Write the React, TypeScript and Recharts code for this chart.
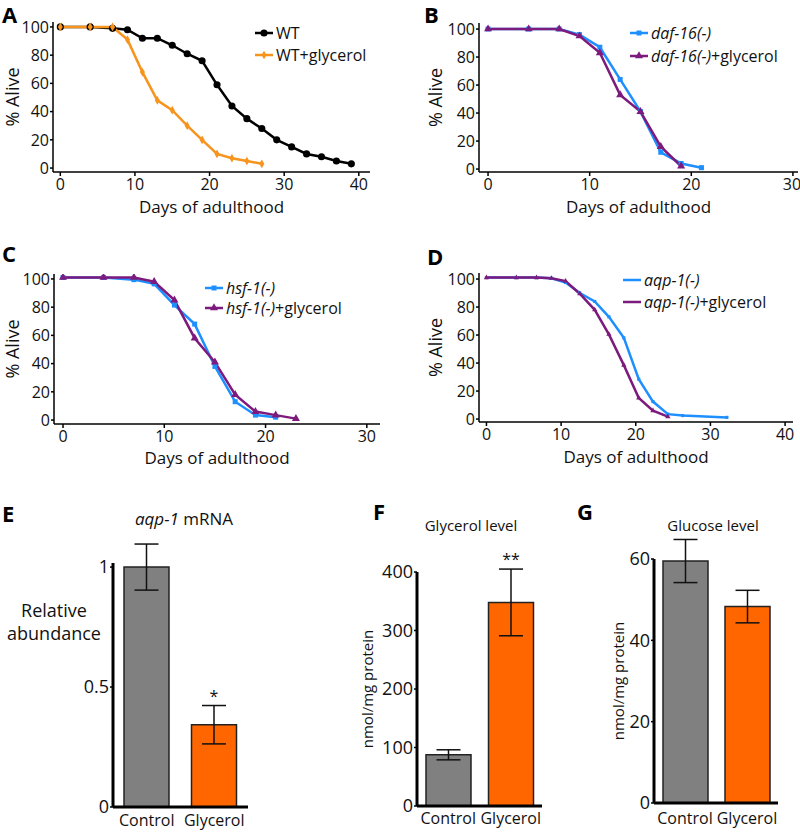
import React from "react"
import { LineChart, Line, XAxis, YAxis, Legend, BarChart, Bar, ErrorBar, Cell, LabelList, Symbols } from "recharts"

const FONT = "'Open Sans', sans-serif"
const INK = "#111"
const ORANGE_LINE = "#F7941D"
const BLUE = "#1E8FFF"
const PURPLE = "#7D1A7D"
const GREY = "#808080"
const ORANGE_BAR = "#FF6600"

// panel A
const daysWT = [0, 4, 7, 9, 11, 13, 15, 17, 19, 21, 23, 25, 27, 29, 31, 33, 35, 37, 39]
const aliveWT = [100, 100, 99, 98, 92, 92, 87, 81, 76, 59, 44, 35, 28, 20, 15, 10, 8, 5, 3]
const daysWTGly = [0, 4, 7, 9, 11, 13, 15, 17, 19, 21, 23, 25, 27]
const aliveWTGly = [100, 100, 100, 91, 68, 48, 41, 30, 20, 10, 7, 5, 3]

// panel B
const daysDaf = [0, 4, 7, 9, 11, 13, 15, 17, 19, 21]
const aliveDaf = [100, 100, 100, 96, 87, 64, 41, 12, 4, 1]
const daysDafGly = [0, 4, 7, 9, 11, 13, 15, 17, 19]
const aliveDafGly = [100, 100, 100, 95, 83, 53, 41, 16, 2]

// panel C
const daysHsf = [0, 4, 7, 9, 11, 13, 15, 17, 19, 21]
const aliveHsf = [101, 101, 99.5, 96.5, 81.5, 68, 38, 13, 3.5, 2]
const daysHsfGly = [0, 4, 7, 9, 11, 13, 15, 17, 19, 21, 23]
const aliveHsfGly = [101, 101, 101, 98, 85, 58, 41, 18, 6, 3.5, 1]

// panel D
const daysAqp = [0, 4, 6.7, 8.7, 10.6, 12.5, 14.5, 16.4, 18.4, 20.4, 22.3, 24.3, 26.3, 32.2]
const aliveAqp = [101, 101, 101, 100.5, 97.5, 90, 84, 73, 58, 28.5, 12.5, 3.5, 2.5, 1.2]
const daysAqpGly = [0, 4, 6.7, 8.7, 10.6, 12.5, 14.5, 16.4, 18.4, 20.4, 22.3, 24.3]
const aliveAqpGly = [101, 101, 101, 100.5, 98.5, 89.5, 78, 60.5, 38.5, 15, 6, 1.7]

const aliveTicks = [0, 20, 40, 60, 80, 100]

// panels E-G
const categories = ["Control", "Glycerol"]
const barColors = [GREY, ORANGE_BAR]
const aqpMean = [1.0, 0.343]
const aqpErr = [0.096, 0.08]
const aqpSig = ["", "*"]
const glyMean = [87.5, 348]
const glyErr = [8.6, 57]
const glySig = ["", "**"]
const gluMean = [59.5, 48.3]
const gluErr = [5.3, 4]
const gluSig = ["", ""]

const pts = (days: number[], vals: number[]) => vals.map((v, i) => ({ day: days[i], alive: v }))

const makeDot = (shape: any, size: number, color: string) => (p: any) => {
  if (p.cx == null || p.cy == null) return <g key={`e-${p.index}`} />
  return <Symbols key={`d-${p.index}`} cx={p.cx} cy={p.cy} type={shape} size={size} fill={color} />
}

const yTitle = (text: string, dx: number, size = 18) => (props: any) => {
  const vb = props.viewBox
  const cx = vb.x + dx
  const cy = vb.y + vb.height / 2
  return (
    <text x={cx} y={cy} transform={`rotate(-90 ${cx} ${cy})`} textAnchor="middle" dominantBaseline="central"
      fontSize={size} fontFamily={FONT} fill={INK}>{text}</text>
  )
}

const xTitle = (text: string, dy: number) => (props: any) => {
  const vb = props.viewBox
  return (
    <text x={vb.x + vb.width / 2} y={vb.y + dy} textAnchor="middle" fontSize={17} fontFamily={FONT} fill={INK}>{text}</text>
  )
}

type Series = { name: string; it: string; rest: string; days: number[]; vals: number[]; color: string; shape: string; size: number; legendMark: boolean }

function SurvLegend({ items, rowH }: { items: Series[]; rowH: number }) {
  return (
    <div style={{ fontFamily: FONT, fontSize: 16, color: INK, whiteSpace: "nowrap" }}>
      {items.map((s) => (
        <div key={s.name} style={{ display: "flex", alignItems: "center", height: rowH }}>
          <svg width={18} height={10}>
            <line x1={0} y1={5} x2={18} y2={5} stroke={s.color} strokeWidth={2.5} />
            {s.legendMark && <Symbols cx={9} cy={5} type={s.shape as any} size={s.size} fill={s.color} />}
          </svg>
          <span style={{ marginLeft: 3 }}>
            <i>{s.it}</i>{s.rest}
          </span>
        </div>
      ))}
    </div>
  )
}

function SurvivalPanel(p: any) {
  const series: Series[] = p.series
  return (
    <div style={{ position: "absolute", left: p.left, top: p.top }}>
      <LineChart width={p.width} height={p.height} margin={p.margin}>
        <XAxis type="number" dataKey="day" domain={p.xDomain} ticks={p.xTicks} height={p.xHeight} allowDataOverflow
          axisLine={{ stroke: "#000", strokeWidth: 1.5 }} tickLine={{ stroke: "#000", strokeWidth: 1.5 }}
          tickSize={4} tickMargin={3} tick={{ fill: INK, fontSize: 16, fontFamily: FONT }}
          label={xTitle("Days of adulthood", p.xLabelDy)} />
        <YAxis type="number" domain={p.yDomain} ticks={aliveTicks} width={p.yWidth} allowDataOverflow
          axisLine={{ stroke: "#000", strokeWidth: 1.5 }} tickLine={{ stroke: "#000", strokeWidth: 1.5 }}
          tickSize={3} tickMargin={1} tick={{ fill: INK, fontSize: 16, fontFamily: FONT }}
          label={yTitle("% Alive", p.yLabelDx)} />
        {series.map((s) => (
          <Line key={s.name} data={pts(s.days, s.vals)} dataKey="alive" name={s.name} type="linear"
            stroke={s.color} strokeWidth={2.5} dot={makeDot(s.shape, s.size, s.color)} activeDot={false}
            isAnimationActive={false} />
        ))}
        <Legend layout="vertical" align="center" verticalAlign="middle"
          wrapperStyle={{ left: p.legend.left, top: p.legend.top, width: "auto", height: "auto" }}
          content={() => <SurvLegend items={series} rowH={p.legend.rowH} />} />
      </LineChart>
    </div>
  )
}

const makeSig = (means: number[], errs: number[]) => (p: any) => {
  const vb = p.viewBox || p
  const i = p.index
  if (!p.value) return null
  const errTop = vb.y - errs[i] * (vb.height / means[i])
  return (
    <text x={vb.x + vb.width / 2} y={errTop - 4} textAnchor="middle" fontSize={16} fontFamily={FONT} fill={INK}>{p.value}</text>
  )
}

function BarPanel(p: any) {
  const data = categories.map((c, i) => ({ cat: c, mean: p.means[i], err: p.errs[i], sig: p.sigs[i] }))
  return (
    <div style={{ position: "absolute", left: p.left, top: p.top }}>
      <BarChart width={p.width} height={p.height} margin={p.margin} data={data}>
        <XAxis dataKey="cat" height={p.xHeight} interval={0} axisLine={{ stroke: "#000", strokeWidth: 3 }} tickLine={false}
          tickSize={0} tickMargin={p.tickMargin} tick={{ fill: INK, fontSize: 16, fontFamily: FONT }} />
        <YAxis type="number" domain={p.yDomain} ticks={p.yTicks} width={p.yWidth} allowDataOverflow
          axisLine={{ stroke: "#000", strokeWidth: 3 }} tickLine={{ stroke: "#000", strokeWidth: 1.5 }}
          tickSize={3} tickMargin={1} tick={{ fill: INK, fontSize: 18, fontFamily: FONT }}
          label={p.yLabel} />
        <Bar dataKey="mean" barSize={45} stroke="#222" strokeWidth={1.5} isAnimationActive={false}>
          {data.map((d, i) => <Cell key={d.cat} fill={barColors[i]} />)}
          <ErrorBar dataKey="err" width={12} stroke={INK} strokeWidth={1.5} direction="y" />
          <LabelList dataKey="sig" content={makeSig(p.means, p.errs)} />
        </Bar>
      </BarChart>
    </div>
  )
}

const relAbundance = (props: any) => {
  const vb = props.viewBox
  return (
    <text textAnchor="middle" fontSize={18} fontFamily={FONT} fill={INK}>
      <tspan x={vb.x + 54} y={vb.y + 54}>Relative</tspan>
      <tspan x={vb.x + 54} y={vb.y + 77}>abundance</tspan>
    </text>
  )
}

export default function App() {
  return (
    <div style={{ position: "absolute", left: 0, top: 0, width: 800, height: 834, background: "#fff", fontFamily: FONT }}>
      <SurvivalPanel left={0} top={0} width={400} height={222} margin={{ top: 22, right: 30, bottom: 0, left: 0 }}
        yWidth={53} xHeight={50} xDomain={[-0.98, 41.5]} xTicks={[0, 10, 20, 30, 40]} yDomain={[-2.8, 103.5]}
        yLabelDx={12} xLabelDy={41} legend={{ left: 255, top: 22, rowH: 22 }}
        series={[
          { name: "WT", it: "", rest: "WT", days: daysWT, vals: aliveWT, color: "#000", shape: "circle", size: 40, legendMark: true },
          { name: "WT+glycerol", it: "", rest: "WT+glycerol", days: daysWTGly, vals: aliveWTGly, color: ORANGE_LINE, shape: "diamond", size: 22, legendMark: true },
        ]} />
      <SurvivalPanel left={400} top={0} width={400} height={222} margin={{ top: 23, right: 2, bottom: 0, left: 0 }}
        yWidth={79} xHeight={50} xDomain={[-0.89, 30.5]} xTicks={[0, 10, 20, 30]} yDomain={[-2.1, 104.3]}
        yLabelDx={35} xLabelDy={41} legend={{ left: 230, top: 21, rowH: 23 }}
        series={[
          { name: "daf", it: "daf-16(-)", rest: "", days: daysDaf, vals: aliveDaf, color: BLUE, shape: "square", size: 25, legendMark: true },
          { name: "dafGly", it: "daf-16(-)", rest: "+glycerol", days: daysDafGly, vals: aliveDafGly, color: PURPLE, shape: "triangle", size: 28, legendMark: true },
        ]} />
      <SurvivalPanel left={0} top={250} width={400} height={222} margin={{ top: 24, right: 20, bottom: 0, left: 0 }}
        yWidth={54} xHeight={48} xDomain={[-0.89, 31.3]} xTicks={[0, 10, 20, 30]} yDomain={[-2.8, 103.5]}
        yLabelDx={12} xLabelDy={40} legend={{ left: 205, top: 28, rowH: 20 }}
        series={[
          { name: "hsf", it: "hsf-1(-)", rest: "", days: daysHsf, vals: aliveHsf, color: BLUE, shape: "square", size: 25, legendMark: true },
          { name: "hsfGly", it: "hsf-1(-)", rest: "+glycerol", days: daysHsfGly, vals: aliveHsfGly, color: PURPLE, shape: "triangle", size: 28, legendMark: true },
        ]} />
      <SurvivalPanel left={400} top={250} width={400} height={222} margin={{ top: 23, right: 7, bottom: 0, left: 0 }}
        yWidth={79} xHeight={50} xDomain={[-1, 41.06]} xTicks={[0, 10, 20, 30, 40]} yDomain={[-2.1, 104.3]}
        yLabelDx={35} xLabelDy={41} legend={{ left: 223, top: 19, rowH: 22 }}
        series={[
          { name: "aqp", it: "aqp-1(-)", rest: "", days: daysAqp, vals: aliveAqp, color: BLUE, shape: "square", size: 10, legendMark: false },
          { name: "aqpGly", it: "aqp-1(-)", rest: "+glycerol", days: daysAqpGly, vals: aliveAqpGly, color: PURPLE, shape: "triangle", size: 12, legendMark: false },
        ]} />

      <BarPanel left={0} top={500} width={270} height={334} margin={{ top: 63, right: 22, bottom: 0, left: 0 }}
        yWidth={113} xHeight={27} yDomain={[0, 1.017]} yTicks={[0, 0.5, 1]} tickMargin={8}
        means={aqpMean} errs={aqpErr} sigs={aqpSig} yLabel={relAbundance} />
      <BarPanel left={270} top={500} width={280} height={334} margin={{ top: 72, right: 8, bottom: 0, left: 0 }}
        yWidth={147} xHeight={28} yDomain={[0, 400]} yTicks={[0, 100, 200, 300, 400]} tickMargin={7}
        means={glyMean} errs={glyErr} sigs={glySig} yLabel={yTitle("nmol/mg protein", 97, 15)} />
      <BarPanel left={530} top={500} width={270} height={334} margin={{ top: 59, right: 22, bottom: 0, left: 0 }}
        yWidth={124} xHeight={31} yDomain={[0, 60]} yTicks={[0, 20, 40, 60]} tickMargin={10}
        means={gluMean} errs={gluErr} sigs={gluSig} yLabel={yTitle("nmol/mg protein", 88, 15)} />

      <svg width={800} height={834} style={{ position: "absolute", left: 0, top: 0, pointerEvents: "none" }}>
        <g fontFamily={FONT} fontWeight={700} fontSize={22} fill="#000">
          <text x={2} y={23}>A</text>
          <text x={424} y={23}>B</text>
          <text x={2} y={262}>C</text>
          <text x={427} y={265}>D</text>
          <text x={2} y={522}>E</text>
          <text x={373} y={520}>F</text>
          <text x={577} y={520}>G</text>
        </g>
        <text x={184} y={525} textAnchor="middle" fontFamily={FONT} fontSize={17} fill={INK}>
          <tspan fontStyle="italic">aqp-1</tspan> mRNA
        </text>
        <text x={471} y={531} textAnchor="middle" fontFamily={FONT} fontSize={15} fill={INK}>Glycerol level</text>
        <text x={713} y={531} textAnchor="middle" fontFamily={FONT} fontSize={15} fill={INK}>Glucose level</text>
      </svg>
    </div>
  )
}
